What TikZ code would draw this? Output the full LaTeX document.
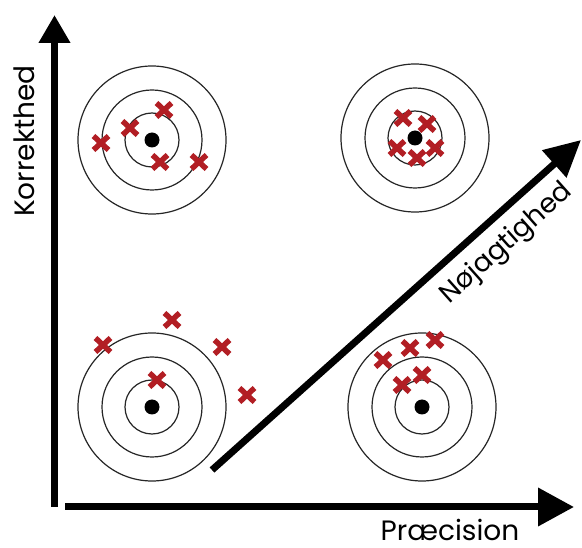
\documentclass[tikz,border=0pt]{standalone}
\usepackage{fontspec}
\setmainfont{Poppins}
\usetikzlibrary{arrows.meta}
\definecolor{xred}{RGB}{178,30,36}
\begin{document}
\begin{tikzpicture}[x=1pt,y=-1pt,
  ring/.style={draw=black!85,line width=1.2pt},
  bull/.style={circle,fill=black,minimum size=15pt,inner sep=0pt},
  axis/.style={line width=7pt},
  xmark/.pic={\draw[xred,line width=5.5pt] (-7.5,-7)--(7.5,7) (-7.5,7)--(7.5,-7);},
  lbl/.style={font=\fontsize{28}{30}\selectfont,inner sep=0pt}]
\useasboundingbox[fill=white] (0,0) rectangle (582,548);
% targets
\foreach \n/\cx/\cy in {tl/152/140,tr/415/138,bl/152/407,br/422/407}{
  \node[bull] (dot\n) at (\cx,\cy) {};
  \draw[ring] (dot\n.center) circle[radius=27pt] circle[radius=50pt] circle[radius=74pt];
}
% marks top-left
\foreach \p in {(164,110),(130,128),(101,143),(160,162),(199,162)} \pic at \p {xmark};
% marks top-right
\foreach \p in {(403,118),(427,124),(397,148),(417,158),(435,148)} \pic at \p {xmark};
% marks bottom-left
\foreach \p in {(172,320),(103,345),(222,347),(157,380),(247,395)} \pic at \p {xmark};
% marks bottom-right
\foreach \p in {(435,340),(410,348),(383,360),(422,375),(402,385)} \pic at \p {xmark};
% axes
\coordinate (ybot) at (54.5,507);
\coordinate (ytip) at (54.5,15);
\coordinate (xbeg) at (65,507);
\coordinate (xtip) at (574,507);
\coordinate (dbeg) at (212,470);
\coordinate (dtip) at (581,140);
\draw[axis,-{Triangle[length=28pt,width=30pt]}] (ybot) -- (ytip);
\draw[axis,-{Triangle[length=36pt,width=37pt]}] (xbeg) -- (xtip);
\draw[axis,-{Triangle[length=36pt,width=35pt]}] (dbeg) -- (dtip);
% labels
\node[lbl,rotate=90] (kor) at (24,141) {Korrekthed};
\node[lbl] (pre) at (450,530) {Præcision};
\node[lbl,rotate=41.8,font=\fontsize{27}{30}\selectfont] (noj) at (507,244) {Nøjagtighed};
\end{tikzpicture}
\end{document}
